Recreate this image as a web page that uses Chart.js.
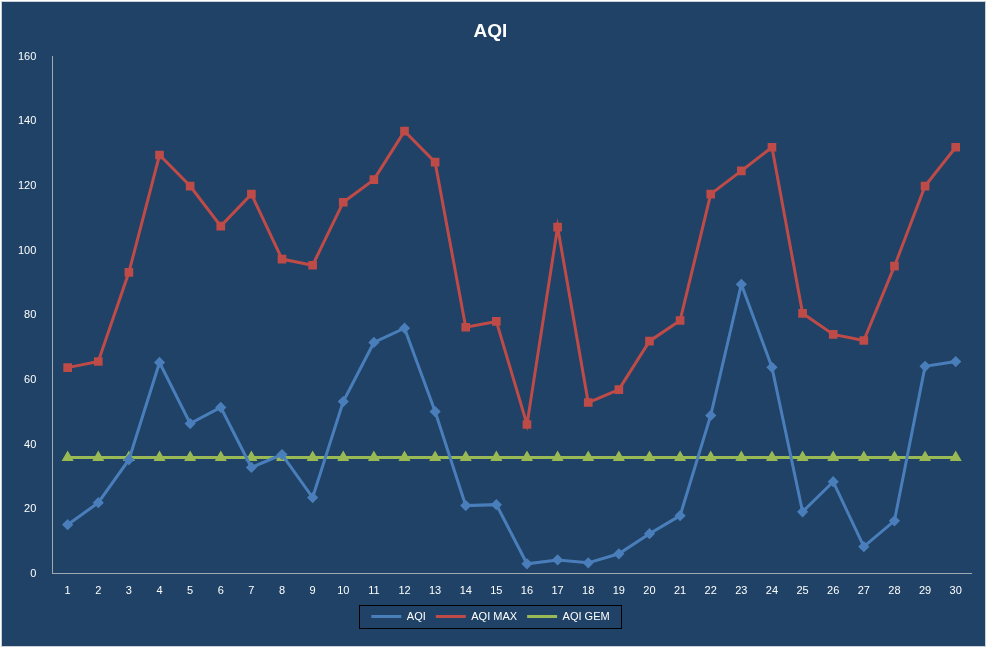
<!DOCTYPE html>
<html><head><meta charset="utf-8">
<script src="https://cdn.jsdelivr.net/npm/chart.js@4/dist/chart.umd.min.js"></script>
<style>html,body{margin:0;padding:0;background:#fff}#w{position:absolute;left:1px;top:1px;width:983px;height:644px;background:#1f4266;border:1px solid #c8d0d8}</style>
</head><body><div id="w"><canvas id="c"></canvas></div>
<script>
const categories = Array.from({length:30},(_, i)=>String(i+1));
const aqi = [15.2,22,35.3,65.4,46.5,51.5,32.9,36.9,23.6,53.3,71.6,76,50.2,21.1,21.4,3.1,4.3,3.4,6.2,12.4,18,49,89.6,63.9,19.2,28.5,8.4,16.4,64.2,65.7];
const aqiMax = [63.8,65.7,93.3,129.6,120,107.6,117.5,97.4,95.5,115,122,137,127.4,76.3,78.1,46.2,107.3,53,57,72,78.4,117.5,124.7,132,80.6,74.1,72.2,95.2,120,132];
const aqiGem = Array(30).fill(36);
const yTicks = [0,20,40,60,80,100,120,140,160];

const legendBox = {id:'lb', afterDraw(ch){const l=ch.legend;const hb=l.legendHitBoxes;if(!hb||!hb.length)return;
 const x0=Math.min(...hb.map(b=>b.left))-12, x1=Math.max(...hb.map(b=>b.left+b.width))+12;
 const y0=hb[0].top-6, y1=hb[0].top+hb[0].height+6;
 const c=ch.ctx;c.save();c.strokeStyle='#000';c.lineWidth=1;c.strokeRect(Math.round(x0)+0.5,Math.round(y0)+0.5,Math.round(x1-x0),Math.round(y1-y0));c.restore();}};
new Chart(document.getElementById('c'),{
 type:'line',
 data:{labels:categories,datasets:[
  {label:'AQI',data:aqi,borderColor:'#4a7ebb',backgroundColor:'#4a7ebb',borderWidth:3,pointStyle:'rectRot',pointRadius:3.5,tension:0},
  {label:'AQI MAX',data:aqiMax,borderColor:'#be4b48',backgroundColor:'#be4b48',borderWidth:3,pointStyle:'rect',pointRadius:4,tension:0},
  {label:'AQI GEM',data:aqiGem,borderColor:'#98b954',backgroundColor:'#98b954',borderWidth:3,pointStyle:'triangle',pointRadius:4,tension:0}
 ]},
 options:{responsive:true,maintainAspectRatio:false,animation:false,
  layout:{padding:{left:8,right:14,top:0,bottom:14}},
  plugins:{title:{display:true,text:'AQI',color:'#fff',font:{family:'Liberation Sans',size:19,weight:'bold'},padding:{top:18,bottom:14}},
   legend:{position:'bottom',labels:{color:'#fff',font:{family:'Liberation Sans',size:11},boxWidth:30,boxHeight:3,padding:10,
    generateLabels(ch){return ch.data.datasets.map((d,i)=>({text:d.label,fillStyle:d.borderColor,strokeStyle:d.borderColor,lineWidth:0,datasetIndex:i,fontColor:'#fff'}));}}},
   tooltip:{enabled:false}},
  scales:{
   x:{offset:true,grid:{display:false,offset:true},border:{color:'#a0a8b0'},ticks:{color:'#fff',font:{family:'Liberation Sans',size:11}}},
   y:{min:0,max:160,afterBuildTicks(s){s.ticks=yTicks.map(v=>({value:v}));},grid:{display:false},border:{color:'#a0a8b0'},ticks:{color:'#fff',font:{family:'Liberation Sans',size:11},padding:8}}
  }},
 plugins:[legendBox]
});
</script></body></html>
